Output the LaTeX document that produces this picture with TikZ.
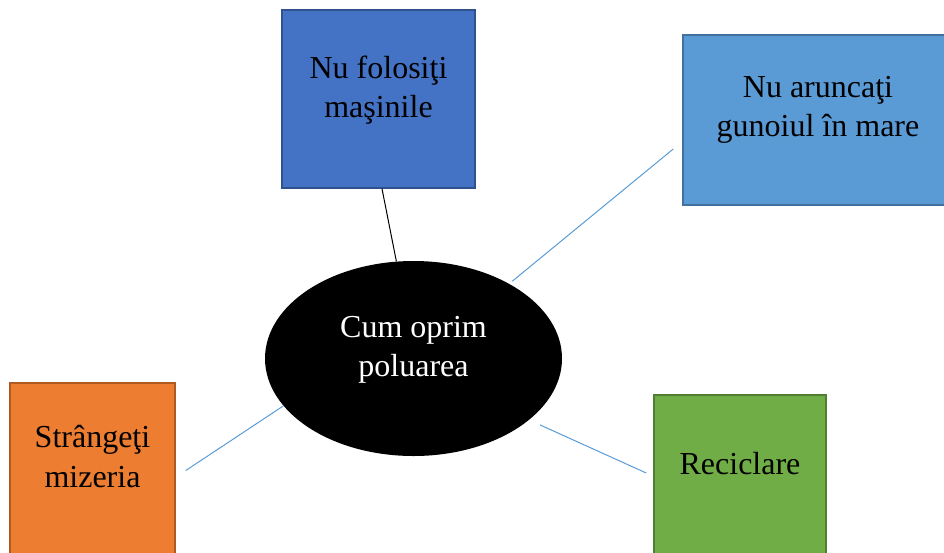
\documentclass[tikz,border=0pt]{standalone}
\usepackage{fontspec}
\setmainfont{Liberation Serif}
\usepackage{tikz}
\usetikzlibrary{shapes}

\definecolor{boxblue}{HTML}{4472C4}
\definecolor{boxblueline}{HTML}{2F528F}
\definecolor{skyblue}{HTML}{5B9BD5}
\definecolor{skyblueline}{HTML}{41719C}
\definecolor{boxorange}{HTML}{ED7D31}
\definecolor{boxorangeline}{HTML}{AE5A21}
\definecolor{boxgreen}{HTML}{70AD47}
\definecolor{boxgreenline}{HTML}{507E32}

\begin{document}
\begin{tikzpicture}[x=1pt,y=-1pt]
\tikzstyle{Box} = [rectangle, draw, line width=1.5pt, inner sep=0pt]
\tikzstyle{Words} = [align=center, font=\fontsize{32}{39.5}\selectfont, inner sep=0pt]
\tikzstyle{Link} = [draw=skyblue, line width=1pt]
\useasboundingbox (0,0) rectangle (944,552);
\clip (0,0) rectangle (944,552);
% the four ideas and the centre
\node[Box, fill=boxblue, draw=boxblueline, minimum width=193, minimum height=178] (Masini) at (378.5,99){};
\node[Box, fill=skyblue, draw=skyblueline, minimum width=270, minimum height=170] (Gunoi) at (818,120){};
\node[Box, fill=boxorange, draw=boxorangeline, minimum width=165, minimum height=175] (Mizerie) at (92.5,470.5){};
\node[Box, fill=boxgreen, draw=boxgreenline, minimum width=172, minimum height=175] (Reciclare) at (740,482.5){};
\node[ellipse, fill=black, inner sep=0pt, minimum width=297, minimum height=195] (Cum) at (413.5,358.5){};
\node[Words] (MasiniText) at ([yshift=9pt]Masini.center){Nu folosiţi\\maşinile};
\node[Words] (GunoiText) at ([yshift=10pt]Gunoi.center){Nu aruncaţi\\gunoiul în mare};
\node[Words] (MizerieText) at ([yshift=14pt]Mizerie.center){Strângeţi\\mizeria};
\node[Words] (ReciclareText) at ([yshift=19pt]Reciclare.center){Reciclare};
\node[Words, text=white] (CumText) at ([yshift=8.5pt]Cum.center){Cum oprim\\poluarea};
% connectors
\draw[line width=1pt] ([xshift=3.5pt]Masini.south) -- (Cum.100);
\path[Link, shorten <=4pt] (Cum.38) -- ([xshift=-9pt,yshift=-29pt]Gunoi.west);
\path[Link] (Cum.200) -- ([xshift=10pt]Mizerie.east);
\path[Link, shorten <=12pt] (Cum.332) -- ([xshift=-7pt,yshift=9.5pt]Reciclare.west);
\end{tikzpicture}
\end{document}
